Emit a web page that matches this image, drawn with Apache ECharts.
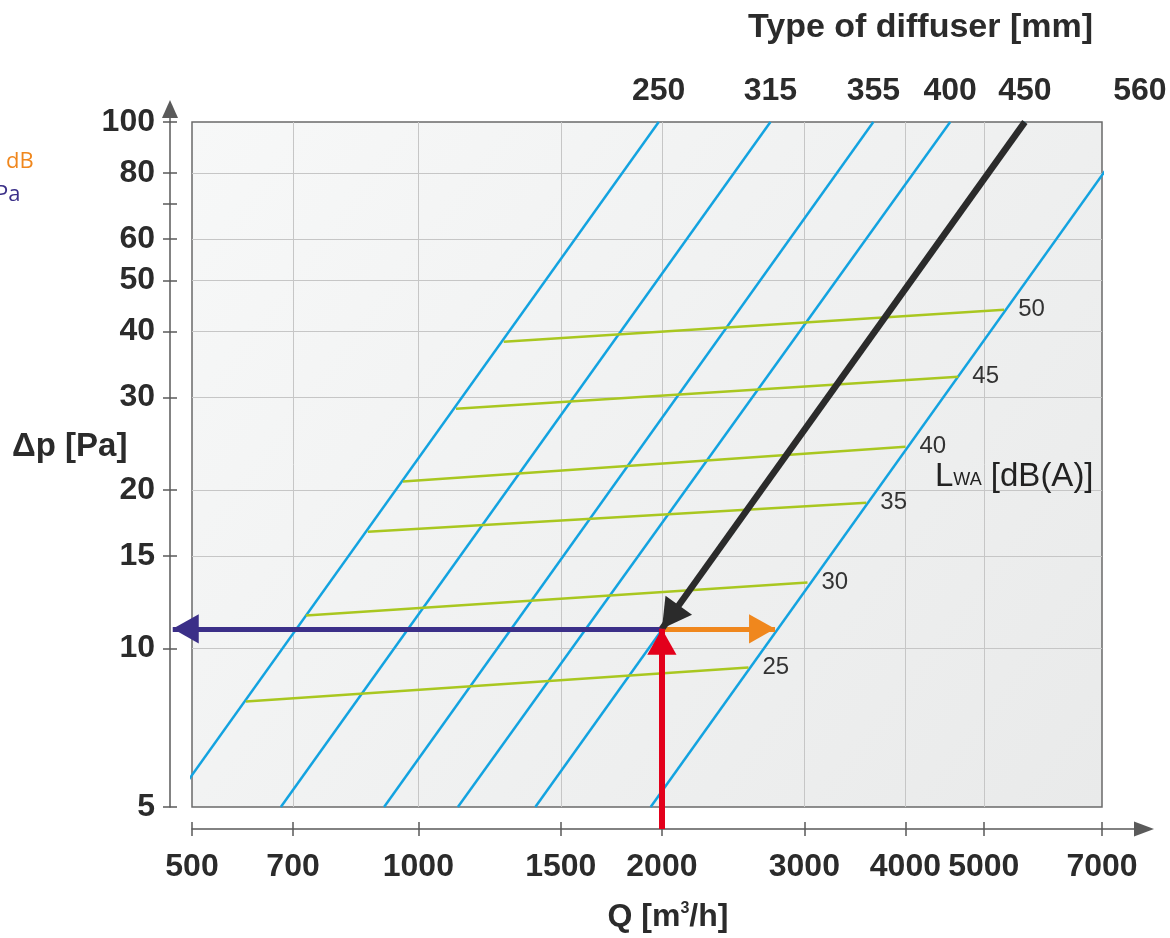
<!DOCTYPE html>
<html style="height: 100%">
<head>
<meta charset="utf-8">
<title>Diffuser selection chart</title>
<script src="https://cdn.jsdelivr.net/npm/echarts@6.0.0/dist/echarts.min.js"></script>
</head>
<body style="height: 100%; margin: 0">
<div id="container" style="width: 1170px; height: 938px"></div>
<script type="text/javascript">
// Q axis (m3/h). The drawn scale starts a bit above 500, but that edge is labelled 500
const qTickValues = [525, 700, 1000, 1500, 2000, 3000, 4000, 5000, 7000];
const qTickLabels = ['500', '700', '1000', '1500', '2000', '3000', '4000', '5000', '7000'];
const qGridValues = [700, 1000, 1500, 2000, 3000, 4000, 5000];

// pressure axis (Pa)
const dpTickValues = [5, 10, 15, 20, 30, 40, 50, 60, 70, 80, 100];
const dpLabelValues = [5, 10, 15, 20, 30, 40, 50, 60, 80, 100];
const dpGridValues = [10, 15, 20, 30, 40, 50, 60, 80];

// diffuser lines: air flow at 5 Pa and at 100 Pa
const diffuserSizes = ['250', '315', '355', '400', '450', '560'];
const diffuserQ5 = [492, 676, 907, 1119, 1395, 1937];
const diffuserQ100 = [1982, 2724, 3651, 4544, 5620, 7798];

// sound power lines LWA [dB(A)], left end and right end
const lwaLevels = ['25', '30', '35', '40', '45', '50'];
const lwaQStart = [612, 726, 866, 957, 1113, 1275];
const lwaDpStart = [7.93, 11.55, 16.67, 20.75, 28.53, 38.23];
const lwaQEnd = [2559, 3027, 3579, 4000, 4650, 5298];
const lwaDpEnd = [9.2, 13.34, 18.92, 24.17, 32.82, 43.98];

// worked example: 2000 m3/h through a 450 diffuser
const exampleQ = 2000;
const exampleDp = 10.9;
const exampleAxisDp = 4.54;   // red arrow starts on the Q axis
const exampleAxisQ = 497;     // blue arrow ends on the dp axis
const exampleSoundQ = 2760;   // orange arrow ends on the 560 line

const font = "'Liberation Sans', Arial, sans-serif";
const textColor = '#2b2b2b';
const axisColor = '#5a5a5a';

// plot box and a slightly larger frame that carries the arrowed axes
const box = { left: 192, top: 122, width: 910, height: 685 };
const frame = { left: 192, top: 109, width: 952, height: 698 };
const qMin = qTickValues[0], qMax = 7000, dpMin = 5, dpMax = 100;
const qMaxFrame = qMin * Math.pow(qMax / qMin, frame.width / box.width);
const dpMaxFrame = dpMin * Math.pow(dpMax / dpMin, frame.height / box.height);

function nearestLabel(v, values, labels) {
    let best = 0;
    values.forEach(function (x, i) {
        if (Math.abs(Math.log(x / v)) < Math.abs(Math.log(values[best] / v))) best = i;
    });
    return labels[best];
}

// arrow head whose tip sits on the end point (invisible moves centre the box on the tip)
const head = 'path://M-24,-24 M24,-24 M0,0 L13.5,24 L-13.5,24 Z';

let dom = document.getElementById('container');
let chart = echarts.init(dom, null, { renderer: 'canvas' });

let series = [];
diffuserSizes.forEach(function (size, i) {
    series.push({
        name: size,
        type: 'line',
        xAxisIndex: 0,
        yAxisIndex: 0,
        z: 2,
        data: [[diffuserQ5[i], dpMin], [diffuserQ100[i], dpMax]],
        symbol: 'none',
        clip: true,
        silent: true,
        lineStyle: { color: '#13a3e0', width: 2.5 }
    });
});
lwaLevels.forEach(function (level, i) {
    series.push({
        name: 'LWA ' + level,
        type: 'line',
        xAxisIndex: 0,
        yAxisIndex: 0,
        z: 3,
        data: [[lwaQStart[i], lwaDpStart[i]], [lwaQEnd[i], lwaDpEnd[i]]],
        symbol: 'none',
        silent: true,
        lineStyle: { color: '#a9c720', width: 2.5 },
        endLabel: {
            show: true,
            formatter: level,
            distance: 14,
            fontSize: 24,
            fontFamily: font,
            color: '#333'
        }
    });
});

function arrow(from, to, color, width, size) {
    return {
        type: 'lines',
        coordinateSystem: 'cartesian2d',
        xAxisIndex: 0,
        yAxisIndex: 0,
        z: 6,
        clip: false,
        silent: true,
        symbol: ['none', head],
        symbolSize: [1, size],
        lineStyle: { color: color, width: width, opacity: 1, curveness: 0 },
        data: [{ coords: [from, to] }]
    };
}
series.push(arrow([exampleQ, exampleDp], [exampleAxisQ, exampleDp], '#3b2f88', 5, 52));
series.push(arrow([exampleQ, exampleDp], [exampleSoundQ, exampleDp], '#f0871d', 5, 52));
series.push(arrow([diffuserQ100[4], dpMax], [exampleQ, exampleDp], '#2b2b2b', 6.5, 58));
series.push(arrow([exampleQ, exampleAxisDp], [exampleQ, exampleDp], '#e3001b', 6, 52));

let gridLine = { show: true, lineStyle: { color: '#c6c6c6', width: 1 } };
let axisLineStyle = { color: axisColor, width: 1.5 };
let tickLabel = { fontSize: 32, fontWeight: 'bold', fontFamily: font, color: textColor };

chart.setOption({
    animation: false,
    backgroundColor: '#ffffff',
    title: [
        { text: 'Type of diffuser [mm]', left: 748, top: 11, padding: 0,
          textStyle: { fontSize: 34, fontWeight: 'bold', fontFamily: font, color: textColor } },
        { text: 'Δp [Pa]', left: 12, top: 430, padding: 0,
          textStyle: { fontSize: 33, fontWeight: 'bold', fontFamily: font, color: textColor } },
        { text: '{l|L}{s|WA}{l| [dB(A)]}', left: 935, top: 460, padding: 0,
          textStyle: { rich: {
              l: { fontSize: 33, fontWeight: 'normal', fontFamily: font, color: '#222' },
              s: { fontSize: 18, fontWeight: 'normal', fontFamily: font, color: '#222', verticalAlign: 'bottom', padding: [0, 0, 4, 0] }
          } } },
        { text: 'dB', left: 6, top: 151, padding: 0,
          textStyle: { fontSize: 22, fontWeight: 'normal', fontFamily: "'Open Sans', sans-serif", color: '#f0871d' } },
        { text: 'Pa', left: -5, top: 184, padding: 0,
          textStyle: { fontSize: 22, fontWeight: 'normal', fontFamily: "'Open Sans', sans-serif", color: '#3b2f88' } }
    ],
    grid: [
        Object.assign({
            show: true,
            outerBoundsMode: 'none',
            borderColor: '#6a6a6a',
            borderWidth: 1.5,
            backgroundColor: new echarts.graphic.LinearGradient(0, 0, 1, 1, [
                { offset: 0, color: '#f7f8f8' },
                { offset: 1, color: '#e9eaea' }
            ])
        }, box),
        Object.assign({ show: false, outerBoundsMode: 'none' }, frame)
    ],
    xAxis: [
        {
            gridIndex: 0, type: 'log', min: qMin, max: qMax,
            axisLine: { show: false }, axisLabel: { show: false },
            axisTick: { show: false, customValues: qGridValues },
            splitLine: gridLine
        },
        {
            gridIndex: 1, type: 'log', min: qMin, max: qMaxFrame, position: 'bottom', offset: 22,
            axisLine: { show: true, symbol: ['none', 'triangle'], symbolSize: [15, 20], lineStyle: axisLineStyle },
            axisTick: { show: true, customValues: qTickValues, length: 7, lineStyle: axisLineStyle },
            axisLabel: Object.assign({
                customValues: qTickValues,
                margin: 22,
                formatter: function (v) { return nearestLabel(v, qTickValues, qTickLabels); }
            }, tickLabel),
            splitLine: { show: false },
            name: '{a|Q [m}{b|3}{a|/h]}',
            nameLocation: 'middle',
            nameGap: 72,
            nameTextStyle: { rich: {
                a: { fontSize: 32, fontWeight: 'bold', fontFamily: font, color: textColor },
                b: { fontSize: 16, fontWeight: 'bold', fontFamily: font, color: textColor, verticalAlign: 'top' }
            } }
        },
        {
            gridIndex: 1, type: 'log', min: qMin, max: qMaxFrame, position: 'bottom', offset: 22,
            axisLine: { show: false }, axisLabel: { show: false },
            axisTick: { show: true, inside: true, customValues: qTickValues, length: 7, lineStyle: axisLineStyle },
            splitLine: { show: false }
        },
        {
            gridIndex: 1, type: 'log', min: qMin, max: qMaxFrame, position: 'top',
            axisLine: { show: false }, axisTick: { show: false },
            axisLabel: Object.assign({
                customValues: diffuserQ100,
                margin: 2,
                formatter: function (v) { return nearestLabel(v, diffuserQ100, diffuserSizes); }
            }, tickLabel),
            splitLine: { show: false }
        }
    ],
    yAxis: [
        {
            gridIndex: 0, type: 'log', min: dpMin, max: dpMax,
            axisLine: { show: false }, axisLabel: { show: false },
            axisTick: { show: false, customValues: dpGridValues },
            splitLine: gridLine
        },
        {
            gridIndex: 1, type: 'log', min: dpMin, max: dpMaxFrame, position: 'left', offset: 22,
            axisLine: { show: true, symbol: ['none', 'triangle'], symbolSize: [16, 18], lineStyle: axisLineStyle },
            axisTick: { show: true, customValues: dpTickValues, length: 7, lineStyle: axisLineStyle },
            axisLabel: Object.assign({
                customValues: dpLabelValues,
                margin: 15,
                formatter: function (v) { return nearestLabel(v, dpLabelValues, dpLabelValues.map(String)); }
            }, tickLabel),
            splitLine: { show: false }
        },
        {
            gridIndex: 1, type: 'log', min: dpMin, max: dpMaxFrame, position: 'left', offset: 22,
            axisLine: { show: false }, axisLabel: { show: false },
            axisTick: { show: true, inside: true, customValues: dpTickValues, length: 7, lineStyle: axisLineStyle },
            splitLine: { show: false }
        }
    ],
    series: series
});
</script>
</body>
</html>
